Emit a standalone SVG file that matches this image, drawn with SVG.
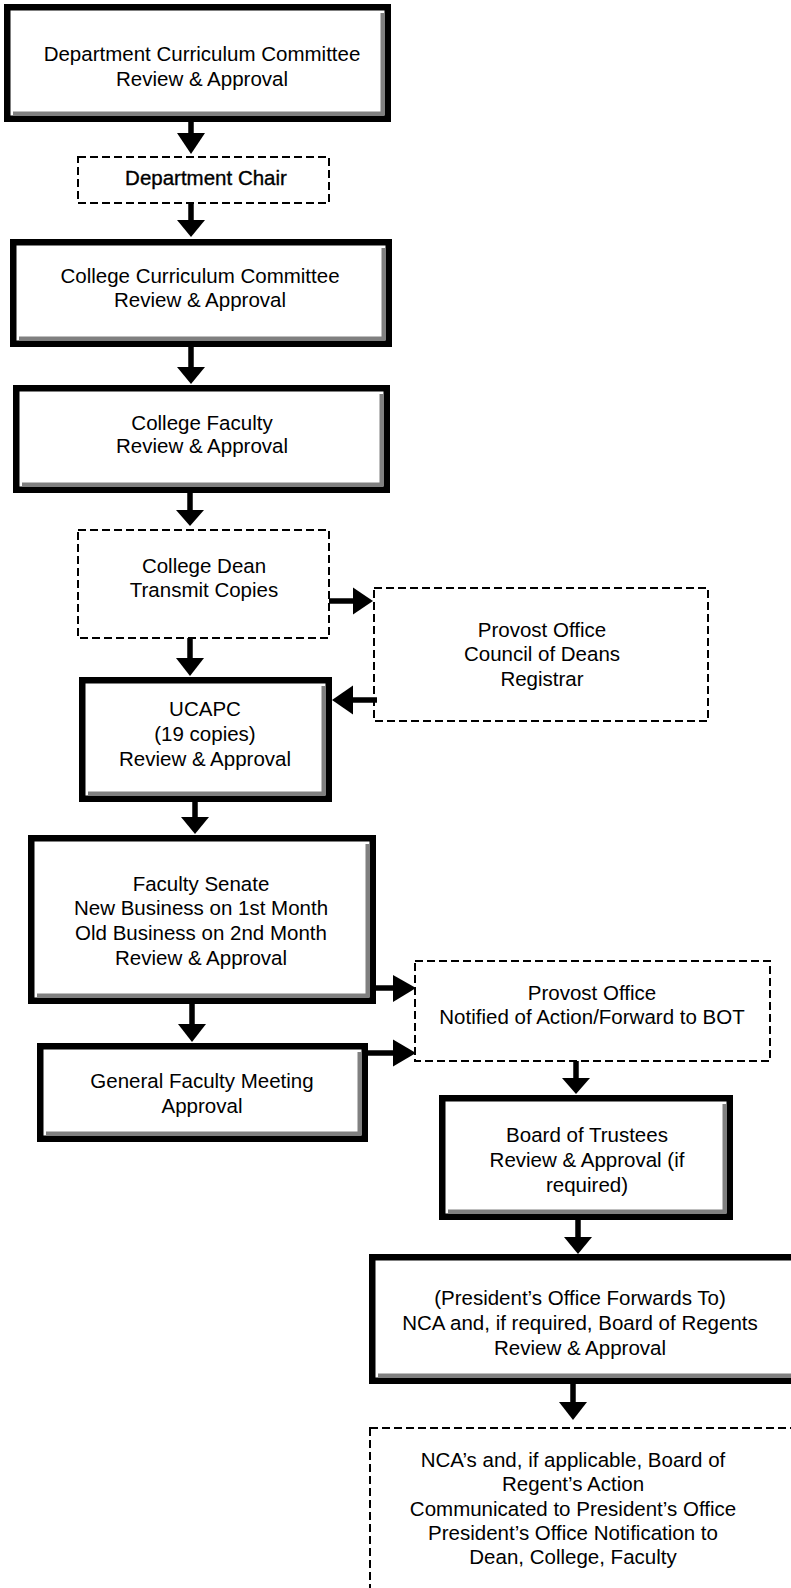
<svg xmlns="http://www.w3.org/2000/svg" width="791" height="1588" viewBox="0 0 791 1588">
<style>
text{font-family:"Liberation Sans",Arial,sans-serif;font-size:20.5px;fill:#000;text-anchor:middle}
.solid{fill:#fff;stroke:#000;stroke-width:6.5}
.shadow{fill:#808080;stroke:none}
.dash{fill:#fff;stroke:#000;stroke-width:2;stroke-dasharray:8 4}
.shaft{stroke:#000;stroke-width:5.5;fill:none}
.head{fill:#000;stroke:none}
</style>
<rect width="791" height="1588" fill="#fff"/>
<g id="dept-committee">
<rect class="solid" x="7.25" y="7.25" width="380.5" height="111.5"/>
<path class="shadow" d="M13,111.5 H380.5 V13 H384.5 V115.5 H13 Z"/>
<text x="202" y="61">Department Curriculum Committee</text>
<text x="202" y="86">Review &amp; Approval</text>
</g>
<g id="dept-chair">
<rect class="dash" x="78" y="157" width="251" height="46"/>
<text x="206" y="185" stroke="#000" stroke-width="0.35">Department Chair</text>
</g>
<g id="college-committee">
<rect class="solid" x="13.25" y="242.25" width="375.5" height="101.5"/>
<path class="shadow" d="M19,336.5 H381.5 V248 H385.5 V340.5 H19 Z"/>
<text x="200" y="283">College Curriculum Committee</text>
<text x="200" y="307">Review &amp; Approval</text>
</g>
<g id="college-faculty">
<rect class="solid" x="16.25" y="388.25" width="370.5" height="101.5"/>
<path class="shadow" d="M22,482.5 H379.5 V394 H383.5 V486.5 H22 Z"/>
<text x="202" y="430">College Faculty</text>
<text x="202" y="453">Review &amp; Approval</text>
</g>
<g id="college-dean">
<rect class="dash" x="78" y="530" width="251" height="108"/>
<text x="204" y="573">College Dean</text>
<text x="204" y="597">Transmit Copies</text>
</g>
<g id="provost-council">
<rect class="dash" x="374" y="588" width="334" height="133"/>
<text x="542" y="637">Provost Office</text>
<text x="542" y="661">Council of Deans</text>
<text x="542" y="686">Registrar</text>
</g>
<g id="ucapc">
<rect class="solid" x="82.25" y="680.25" width="246.5" height="118.5"/>
<path class="shadow" d="M88,791.5 H321.5 V686 H325.5 V795.5 H88 Z"/>
<text x="205" y="716">UCAPC</text>
<text x="205" y="741">(19 copies)</text>
<text x="205" y="766">Review &amp; Approval</text>
</g>
<g id="faculty-senate">
<rect class="solid" x="31.25" y="838.25" width="341.5" height="162.5"/>
<path class="shadow" d="M37,993.5 H365.5 V844 H369.5 V997.5 H37 Z"/>
<text x="201" y="891">Faculty Senate</text>
<text x="201" y="915">New Business on 1st Month</text>
<text x="201" y="940">Old Business on 2nd Month</text>
<text x="201" y="965">Review &amp; Approval</text>
</g>
<g id="general-faculty">
<rect class="solid" x="40.25" y="1046.25" width="324.5" height="92.5"/>
<path class="shadow" d="M46,1131.5 H357.5 V1052 H361.5 V1135.5 H46 Z"/>
<text x="202" y="1088">General Faculty Meeting</text>
<text x="202" y="1113">Approval</text>
</g>
<g id="provost-notified">
<rect class="dash" x="415" y="961" width="355" height="100"/>
<text x="592" y="1000">Provost Office</text>
<text x="592" y="1024">Notified of Action/Forward to BOT</text>
</g>
<g id="board-trustees">
<rect class="solid" x="442.25" y="1098.25" width="287.5" height="118.5"/>
<path class="shadow" d="M448,1209.5 H722.5 V1104 H726.5 V1213.5 H448 Z"/>
<text x="587" y="1142">Board of Trustees</text>
<text x="587" y="1167">Review &amp; Approval (if</text>
<text x="587" y="1192">required)</text>
</g>
<g id="president-office">
<rect class="solid" x="372.25" y="1257.25" width="440" height="123.5"/>
<path class="shadow" d="M378,1373.5 H800 V1377.5 H378 Z"/>
<text x="580" y="1305">(President’s Office Forwards To)</text>
<text x="580" y="1330">NCA and, if required, Board of Regents</text>
<text x="580" y="1355">Review &amp; Approval</text>
</g>
<g id="final-action">
<rect class="dash" x="370" y="1428" width="440" height="200"/>
<text x="573" y="1467">NCA’s and, if applicable, Board of</text>
<text x="573" y="1491">Regent’s Action</text>
<text x="573" y="1516">Communicated to President’s Office</text>
<text x="573" y="1540">President’s Office Notification to</text>
<text x="573" y="1564">Dean, College, Faculty</text>
</g>
<g id="connectors">
<line class="shaft" x1="191" y1="122" x2="191" y2="134"/>
<polygon class="head" points="177,133 205,133 191,154"/>
<line class="shaft" x1="191" y1="204" x2="191" y2="221"/>
<polygon class="head" points="177,220 205,220 191,237"/>
<line class="shaft" x1="191" y1="347" x2="191" y2="368"/>
<polygon class="head" points="177,367 205,367 191,384"/>
<line class="shaft" x1="190" y1="493" x2="190" y2="511"/>
<polygon class="head" points="176,510 204,510 190,526"/>
<line class="shaft" x1="190" y1="638" x2="190" y2="659"/>
<polygon class="head" points="176,658 204,658 190,676"/>
<line class="shaft" x1="195" y1="802" x2="195" y2="818"/>
<polygon class="head" points="181,817 209,817 195,834"/>
<line class="shaft" x1="192" y1="1004" x2="192" y2="1025"/>
<polygon class="head" points="178,1024 206,1024 192,1042"/>
<line class="shaft" x1="576" y1="1061" x2="576" y2="1079"/>
<polygon class="head" points="562,1078 590,1078 576,1094"/>
<line class="shaft" x1="578" y1="1220" x2="578" y2="1238"/>
<polygon class="head" points="564,1237 592,1237 578,1254"/>
<line class="shaft" x1="573" y1="1383" x2="573" y2="1403"/>
<polygon class="head" points="559,1402 587,1402 573,1420"/>
<line class="shaft" x1="329" y1="601" x2="354" y2="601"/>
<polygon class="head" points="353,587.5 353,614.5 373,601"/>
<line class="shaft" x1="377" y1="700" x2="352" y2="700"/>
<polygon class="head" points="353,685.5 353,714.5 332,700"/>
<line class="shaft" x1="376" y1="988" x2="394" y2="988"/>
<polygon class="head" points="393,975 393,1002 416,988"/>
<line class="shaft" x1="367" y1="1053" x2="394" y2="1053"/>
<polygon class="head" points="393,1039.5 393,1066.5 416,1053"/>
</g>
</svg>
